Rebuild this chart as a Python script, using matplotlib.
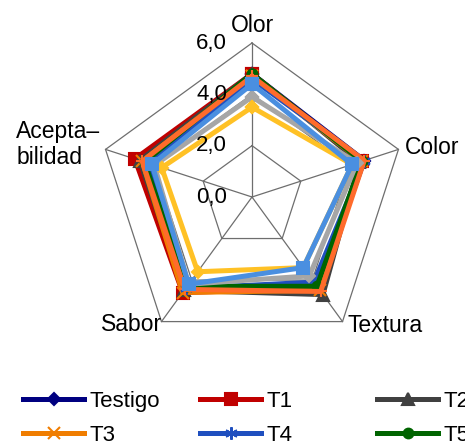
import numpy as np
import matplotlib
matplotlib.use('Agg')
import matplotlib.pyplot as plt

plt.rcParams['font.family'] = ['Liberation Sans', 'DejaVu Sans']

# ---------------- data ----------------
categories = ['Olor', 'Color', 'Textura', 'Sabor', 'Acepta–\nbilidad']
series_names = ['Testigo', 'T1', 'T2', 'T3', 'T4', 'T5', 'T6', 'T7', 'T8', 'T9']
testigo = [4.8, 4.6, 4.4, 4.4, 4.4]
t1 = [4.8, 4.5, 4.4, 4.6, 4.8]
t2 = [4.8, 4.4, 4.7, 4.5, 4.6]
t3 = [4.7, 4.5, 4.5, 4.6, 4.5]
t4 = [4.6, 4.6, 4.1, 4.4, 4.3]
t5 = [4.8, 4.5, 4.3, 4.3, 4.4]
t6 = [4.7, 4.6, 4.55, 4.45, 4.5]
t7 = [3.9, 4.3, 3.8, 4.2, 4.0]
t8 = [3.5, 4.1, 3.4, 3.6, 3.7]
t9 = [4.4, 4.1, 3.4, 4.2, 4.1]
tick_values = [0, 2, 4, 6]
tick_labels = ['0,0', '2,0', '4,0', '6,0']

all_series = [testigo, t1, t2, t3, t4, t5, t6, t7, t8, t9]

# ---------------- styles ----------------
colors = ['#000080', '#C00000', '#404040', '#F07D00', '#1F4FBF',
          '#006400', '#FF6B2B', '#A6A6A6', '#FFC125', '#4A8FE0']
markers = ['D', 's', '^', 'x', (6, 2, 0), 'o', '+', 'D', 'D', 's']
msizes = [6, 8, 8, 9, 9, 7, 8, 6, 6, 9]

W, H = 465, 441
fig = plt.figure(figsize=(W / 100, H / 100), dpi=100)
cx, cy, R = 252, 197, 154
ax = fig.add_axes([(cx - R) / W, (H - cy - R) / H, 2 * R / W, 2 * R / H],
                  projection='polar')
ax.set_theta_offset(np.pi / 2)
ax.set_theta_direction(-1)
ax.set_ylim(0, max(tick_values))
ax.axis('off')

n = len(categories)
theta = np.linspace(0, 2 * np.pi, n, endpoint=False)
theta_c = np.append(theta, theta[0])

grid_col = '#6e6e6e'
for v in tick_values[1:]:
    ax.plot(theta_c, [v] * (n + 1), color=grid_col, lw=0.9, clip_on=False, zorder=1)
for th in theta:
    ax.plot([th, th], [0, max(tick_values)], color=grid_col, lw=0.9, clip_on=False, zorder=1)

handles = []
for i, vals in enumerate(all_series):
    v = list(vals) + [vals[0]]
    ln, = ax.plot(theta_c, v, color=colors[i], lw=3.6, marker=markers[i],
                  ms=msizes[i], mfc=colors[i], mec=colors[i], mew=1.5,
                  clip_on=False, zorder=3 + i, label=series_names[i])
    handles.append(ln)

for v, lbl in zip(tick_values, tick_labels):
    ax.annotate(lbl, xy=(0, v), xytext=(-25, 0), textcoords='offset pixels',
                ha='right', va='center', fontsize=16, zorder=20)

label_offsets = [(0, 18), (6, 2), (5, -4), (1, -3), (-5, 5)]
label_ha = ['center', 'left', 'left', 'right', 'right']
for th, lbl, off, ha in zip(theta, categories, label_offsets, label_ha):
    ax.annotate(lbl, xy=(th, max(tick_values)), xytext=off, textcoords='offset pixels',
                ha=ha, va='center', fontsize=16.5, multialignment='left',
                linespacing=1.2, annotation_clip=False)

# legend: Excel fills row by row in 3 columns; only the first two rows fit in the picture
visible = handles[:6]
col_x = [23, 200, 377]
for c in range(3):
    hs = visible[c::3]
    fig.legend(handles=hs, labels=[h.get_label() for h in hs], loc='upper left',
               bbox_to_anchor=(col_x[c] / W, 50 / H), frameon=False, fontsize=16,
               handlelength=2.75, handletextpad=0.25, labelspacing=0.57,
               borderpad=0, borderaxespad=0)

fig.savefig('out.png', dpi=100)
